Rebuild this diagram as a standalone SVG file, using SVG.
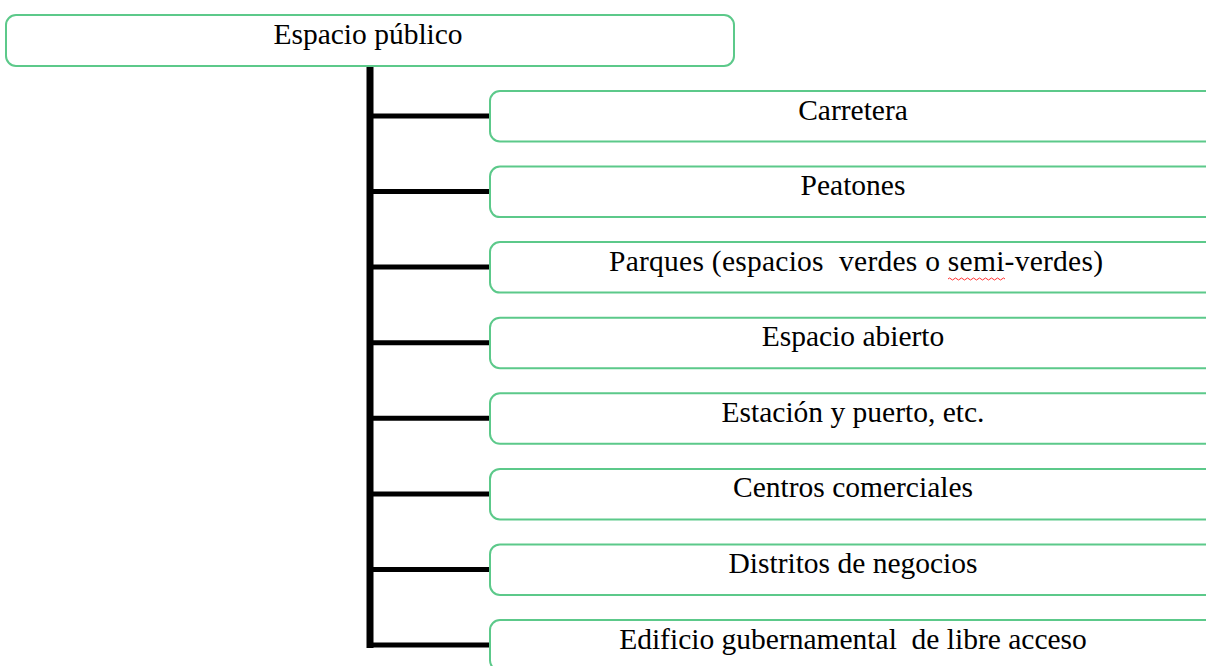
<svg xmlns="http://www.w3.org/2000/svg" width="1206" height="666" viewBox="0 0 1206 666">
<style>
.box{fill:#ffffff;stroke:#5cc98a;stroke-width:2}
.t{font-family:"Liberation Serif","Times New Roman",serif;font-size:29.5px;fill:#000;text-anchor:middle;white-space:pre}
.c{stroke:#000;fill:none}
</style>
<rect width="1206" height="666" fill="#ffffff"/>
<g id="connectors">
<path class="c" d="M370 66 V648" stroke-width="7"/>
<g stroke-width="5">
<path class="c" d="M370 116 H491"/>
<path class="c" d="M370 191.6 H491"/>
<path class="c" d="M370 267.1 H491"/>
<path class="c" d="M370 342.7 H491"/>
<path class="c" d="M370 418.3 H491"/>
<path class="c" d="M370 493.9 H491"/>
<path class="c" d="M370 569.4 H491"/>
<path class="c" d="M367 645 H491"/>
</g>
</g>
<g id="root"><rect class="box" x="6" y="15" width="728" height="51" rx="10"/><text class="t" x="368" y="44">Espacio público</text></g>
<g id="n1"><rect class="box" x="490" y="91" width="726" height="50.5" rx="10"/><text class="t" x="853" y="119.5">Carretera</text></g>
<g id="n2"><rect class="box" x="490" y="166.6" width="726" height="50.5" rx="10"/><text class="t" x="853" y="195">Peatones</text></g>
<g id="n3"><rect class="box" x="490" y="242.1" width="726" height="50.5" rx="10"/><text class="t" x="856" y="270.6" textLength="494" lengthAdjust="spacing">Parques (espacios  verdes o semi-verdes)</text><path d="M948 279 q1.5 -2 3 0 t3 0 t3 0 t3 0 t3 0 t3 0 t3 0 t3 0 t3 0 t3 0 t3 0 t3 0 t3 0 t3 0 t3 0 t3 0 t3 0 t3 0 t3 0" fill="none" stroke="#ff3030" stroke-width="1"/></g>
<g id="n4"><rect class="box" x="490" y="317.7" width="726" height="50.5" rx="10"/><text class="t" x="853" y="346.2">Espacio abierto</text></g>
<g id="n5"><rect class="box" x="490" y="393.3" width="726" height="50.5" rx="10"/><text class="t" x="853" y="421.8">Estación y puerto, etc.</text></g>
<g id="n6"><rect class="box" x="490" y="468.9" width="726" height="50.5" rx="10"/><text class="t" x="853" y="497.4">Centros comerciales</text></g>
<g id="n7"><rect class="box" x="490" y="544.4" width="726" height="50.5" rx="10"/><text class="t" x="853" y="572.9">Distritos de negocios</text></g>
<g id="n8"><rect class="box" x="490" y="620" width="726" height="50.5" rx="10"/><text class="t" x="853" y="648.5">Edificio gubernamental  de libre acceso</text></g>
</svg>
